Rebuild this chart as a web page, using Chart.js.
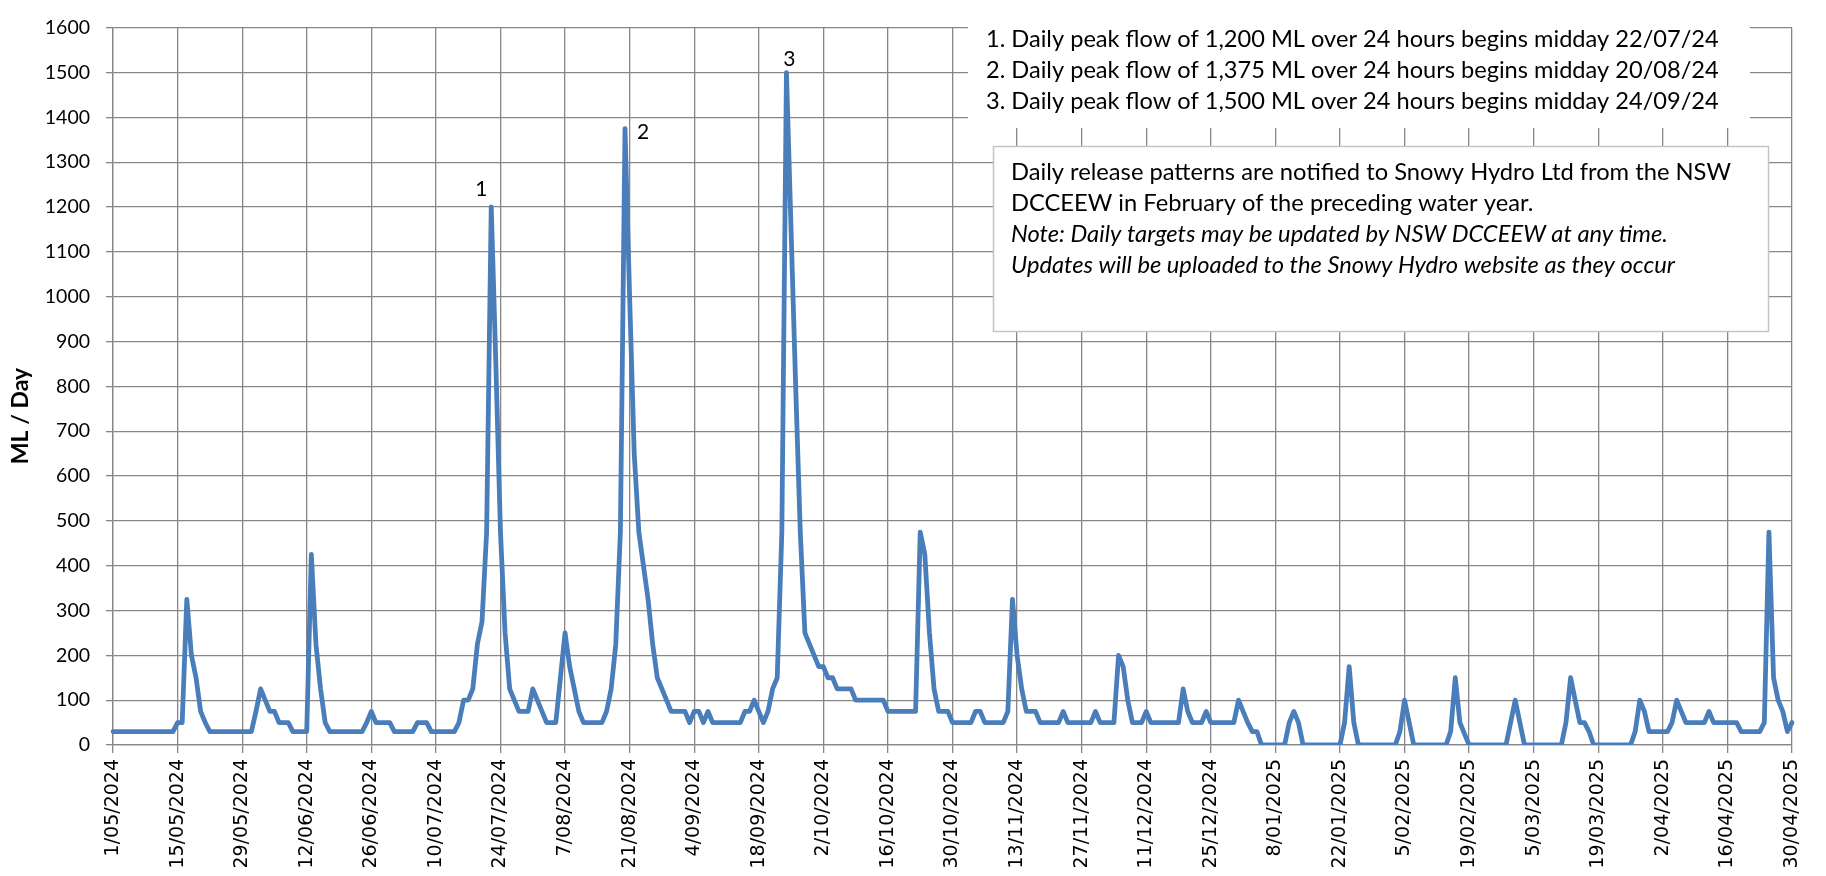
<!DOCTYPE html>
<html><head><meta charset="utf-8">
<script src="https://cdn.jsdelivr.net/npm/chart.js@4.4.1/dist/chart.umd.min.js"></script>
<style>html,body{margin:0;padding:0;background:#fff;}#wrap{width:1826px;height:876px;position:relative;}</style>
</head><body><div id="wrap"><canvas id="c" width="1826" height="876"></canvas></div>
<script>
// Daily release targets (ML / Day), one array per month
const may2024 = [30,30,30,30,30,30,30,30,30,30,30,30,30,30,50,50,325,200,150,75,50,30,30,30,30,30,30,30,30,30,30];
const jun2024 = [75,125,100,75,75,50,50,50,30,30,30,30,425,225,125,50,30,30,30,30,30,30,30,30,50,75,50,50,50,50];
const jul2024 = [30,30,30,30,30,50,50,50,30,30,30,30,30,30,50,100,100,125,225,275,475,1200,850,475,250,125,100,75,75,75,125];
const aug2024 = [100,75,50,50,50,150,250,175,125,75,50,50,50,50,50,75,125,225,475,1375,1000,650,475,400,325,225,150,125,100,75,75];
const sep2024 = [75,75,50,75,75,50,75,50,50,50,50,50,50,50,75,75,100,75,50,75,125,150,475,1500,1150,800,475,250,225,200];
const oct2024 = [175,175,150,150,125,125,125,125,100,100,100,100,100,100,100,75,75,75,75,75,75,75,475,425,250,125,75,75,75,50,50];
const nov2024 = [50,50,50,75,75,50,50,50,50,50,75,325,200,125,75,75,75,50,50,50,50,50,75,50,50,50,50,50,50,75];
const dec2024 = [50,50,50,50,200,175,100,50,50,50,75,50,50,50,50,50,50,50,125,75,50,50,50,75,50,50,50,50,50,50,100];
const jan2025 = [75,50,30,30,0,0,0,0,0,0,50,75,50,0,0,0,0,0,0,0,0,0,50,175,50,0,0,0,0,0,0];
const feb2025 = [0,0,0,30,100,50,0,0,0,0,0,0,0,0,30,150,50,25,0,0,0,0,0,0,0,0,0,50];
const mar2025 = [100,50,0,0,0,0,0,0,0,0,0,50,150,100,50,50,30,0,0,0,0,0,0,0,0,0,30,100,75,30,30];
const apr2025 = [30,30,30,50,100,75,50,50,50,50,50,75,50,50,50,50,50,50,30,30,30,30,30,50,475,150,100,75,30,50];

const values = [].concat(may2024, jun2024, jul2024, aug2024, sep2024, oct2024,
                         nov2024, dec2024, jan2025, feb2025, mar2025, apr2025);

// Categories: one per day from 1/05/2024
const firstDay = Date.UTC(2024, 4, 1);
const categories = values.map((_, i) => {
  const d = new Date(firstDay + i * 86400000);
  return d.getUTCDate() + '/' + String(d.getUTCMonth() + 1).padStart(2, '0') + '/' + d.getUTCFullYear();
});

const tickLabels = ['1/05/2024','15/05/2024','29/05/2024','12/06/2024','26/06/2024','10/07/2024','24/07/2024',
  '7/08/2024','21/08/2024','4/09/2024','18/09/2024','2/10/2024','16/10/2024','30/10/2024','13/11/2024',
  '27/11/2024','11/12/2024','25/12/2024','8/01/2025','22/01/2025','5/02/2025','19/02/2025','5/03/2025',
  '19/03/2025','2/04/2025','16/04/2025','30/04/2025'];

const peakMarkers = ['1', '2', '3'];
const peakDays = ['22/07/2024', '20/08/2024', '24/09/2024'];
const peakNotes = [
  '1. Daily peak flow of 1,200 ML over 24 hours begins midday 22/07/24',
  '2. Daily peak flow of 1,375 ML over 24 hours begins midday 20/08/24',
  '3. Daily peak flow of 1,500 ML over 24 hours begins midday 24/09/24'
];
const boxLines = [
  'Daily release patterns are notified to Snowy Hydro Ltd from the NSW',
  'DCCEEW in February of the preceding water year.'
];
const boxItalicLines = [
  'Note: Daily targets may be updated by NSW DCCEEW at any time.',
  'Updates will be uploaded to the Snowy Hydro website as they occur'
];
const yTitle = 'ML / Day';

// style constants
const TICK_EVERY = 14;
const GRID = '#878787';
const LINE = '#4a7ebb';
const peakLabelOffsets = [[-10, -18], [18, 4], [3, -13]];

function fitSize(ctx, text, target, style, family) {
  ctx.font = style + ' 20px ' + family;
  return 20 * target / ctx.measureText(text).width;
}

const notesPlugin = {
  id: 'notes',
  afterDraw(chart) {
    const ctx = chart.ctx;
    const xs = chart.scales.x, ys = chart.scales.y;
    ctx.save();
    // peak markers
    ctx.fillStyle = '#000';
    ctx.font = '21px Lato';
    ctx.textAlign = 'center';
    ctx.textBaseline = 'middle';
    peakDays.forEach((d, k) => {
      const idx = categories.indexOf(d);
      const px = xs.getPixelForValue(idx);
      const py = ys.getPixelForValue(values[idx]);
      ctx.fillText(peakMarkers[k], px + peakLabelOffsets[k][0], py + peakLabelOffsets[k][1]);
    });

    // top-right notes (white background, no border)
    ctx.fillStyle = '#fff';
    ctx.fillRect(968, 0, 782, 128);
    const s1 = fitSize(ctx, peakNotes[0], 733, '', 'Lato');
    ctx.font = s1.toFixed(2) + 'px Lato';
    ctx.fillStyle = '#000';
    ctx.textAlign = 'left';
    ctx.textBaseline = 'alphabetic';
    peakNotes.forEach((t, k) => ctx.fillText(t, 986, 46.5 + k * 31));

    // info box
    ctx.fillStyle = '#fff';
    ctx.fillRect(993, 146, 776, 186);
    ctx.strokeStyle = '#c4c4c4';
    ctx.lineWidth = 1.5;
    ctx.strokeRect(993.5, 146.5, 775, 185);
    const s2 = fitSize(ctx, boxLines[0], 720, '', 'Lato');
    ctx.fillStyle = '#000';
    ctx.font = s2.toFixed(2) + 'px Lato';
    boxLines.forEach((t, k) => ctx.fillText(t, 1011, 180 + k * 31));
    ctx.font = 'italic ' + s2.toFixed(2) + 'px Lato';
    boxItalicLines.forEach((t, k) => ctx.fillText(t, 1011, 242 + k * 31));

    // y axis title
    ctx.translate(21, 416);
    ctx.rotate(-Math.PI / 2);
    ctx.font = 'bold 23px Lato';
    ctx.textAlign = 'center';
    ctx.textBaseline = 'middle';
    ctx.fillText(yTitle, 0, 0);
    ctx.restore();
  }
};

new Chart(document.getElementById('c'), {
  type: 'line',
  data: {
    labels: categories,
    datasets: [{
      data: values,
      borderColor: LINE,
      borderWidth: 4.8,
      pointRadius: 0,
      pointHoverRadius: 0,
      tension: 0,
      fill: false,
      borderJoinStyle: 'round',
      borderCapStyle: 'round'
    }]
  },
  options: {
    responsive: false,
    animation: false,
    devicePixelRatio: 1,
    events: [],
    layout: { padding: { top: 15, right: 34, left: 0, bottom: 0 } },
    plugins: { legend: { display: false }, tooltip: { enabled: false }, title: { display: false } },
    scales: {
      x: {
        type: 'category',
        offset: false,
        afterBuildTicks: (s) => { s.ticks = s.ticks.filter(t => t.value % TICK_EVERY === 0); },
        afterFit: (s) => { s.height = 131; },
        grid: { color: GRID, lineWidth: 1.3, tickLength: 8, tickColor: GRID, drawTicks: true },
        border: { color: GRID, width: 1.3 },
        ticks: {
          autoSkip: false, minRotation: 90, maxRotation: 90, padding: 6,
          color: '#000', font: { family: 'DejaVu Sans', size: 19 },
          callback: (v, i) => tickLabels[i]
        }
      },
      y: {
        min: 0, max: 1600,
        afterFit: (s) => { s.width = 113; },
        grid: { color: GRID, lineWidth: 1.3, tickLength: 7, tickColor: GRID, drawTicks: true },
        border: { color: GRID, width: 1.3 },
        ticks: { stepSize: 100, padding: 16, color: '#000', font: { family: 'Lato', size: 19.5 },
                 callback: (v) => String(v) }
      }
    }
  },
  plugins: [notesPlugin]
});
</script></body></html>
